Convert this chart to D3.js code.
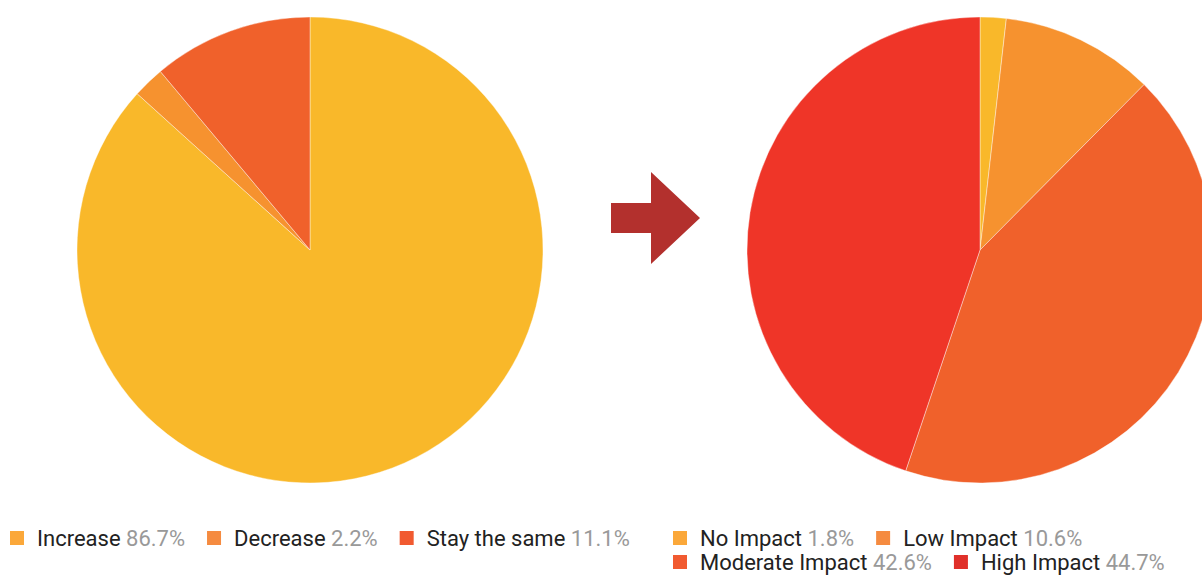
<!DOCTYPE html>
<html>
<head>
<meta charset="utf-8">
<script src="https://cdnjs.cloudflare.com/ajax/libs/d3/7.8.5/d3.min.js"></script>
<style>
  body { margin: 0; background: #fff; }
  svg { display: block; }
  .lbl { font-family: Roboto, "Noto Sans", sans-serif; font-size: 22px; fill: #222; }
  .val { fill: #999; }
</style>
</head>
<body>
<div id="chart"></div>
<script>
// before: expected change
var beforeLabels = ["Increase", "Decrease", "Stay the same"];
var beforeValues = [86.7, 2.2, 11.1];
var beforeColors = ["#F9B82A", "#F6922F", "#F0612B"];
var beforeSwatch = ["#FBA83A", "#F58B40", "#F15A30"];

// after: level of impact
var afterLabels = ["No Impact", "Low Impact", "Moderate Impact", "High Impact"];
var afterValues = [1.8, 10.6, 42.6, 44.7];
var afterColors = ["#F9B82A", "#F6922F", "#F0612B", "#EF3528"];
var afterSwatch = ["#FBA83A", "#F58B40", "#F15A30", "#E0302A"];
var afterRows = [[0, 1], [2, 3]];

var width = 1202, height = 575;
var radius = 233;

var svg = d3.select("#chart").append("svg")
  .attr("width", width)
  .attr("height", height);

var pie = d3.pie().sort(null).value(function(d) { return d; });
var arc = d3.arc().innerRadius(0).outerRadius(radius);

function drawPie(cx, cy, values, colors) {
  var g = svg.append("g").attr("transform", "translate(" + cx + "," + cy + ")");
  g.selectAll("path")
    .data(pie(values))
    .enter().append("path")
    .attr("d", arc)
    .attr("fill", function(d, i) { return colors[i]; })
    .attr("stroke", "#fff")
    .attr("stroke-width", 0.4);
}

drawPie(310, 250, beforeValues, beforeColors);
drawPie(980, 250, afterValues, afterColors);

// arrow between the pies
svg.append("path")
  .attr("d", "M611,203 L651,203 L651,172 L700,218 L651,264 L651,233 L611,233 Z")
  .attr("fill", "#B3302D");

// legend, laid out by measured text width
function legendRow(x0, y, idx, labels, values, swatch) {
  var x = x0;
  idx.forEach(function(i) {
    svg.append("rect")
      .attr("x", x).attr("y", y - 7)
      .attr("width", 14).attr("height", 14)
      .attr("fill", swatch[i]);
    var t = svg.append("text")
      .attr("class", "lbl")
      .attr("x", x + 27).attr("y", y)
      .attr("dy", "0.35em");
    t.append("tspan").text(labels[i] + " ");
    t.append("tspan").attr("class", "val").text(values[i] + "%");
    x = x + 27 + t.node().getComputedTextLength() + 22;
  });
}

legendRow(10, 538, [0, 1, 2], beforeLabels, beforeValues, beforeSwatch);
legendRow(673, 538, afterRows[0], afterLabels, afterValues, afterSwatch);
legendRow(673, 562, afterRows[1], afterLabels, afterValues, afterSwatch);
</script>
</body>
</html>
